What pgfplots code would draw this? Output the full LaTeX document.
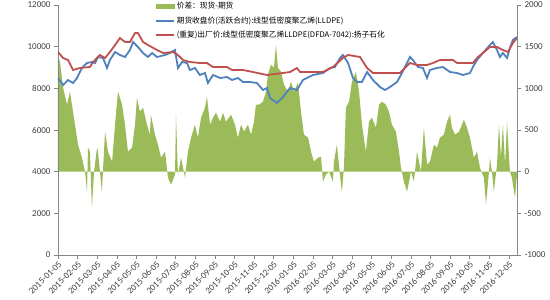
\documentclass[border=0pt]{standalone}
\usepackage{fontspec}
\setmainfont{Carlito}
\newfontfamily\cjk{Noto Sans CJK SC}
\usepackage{pgfplots}
\pgfplotsset{compat=1.18}
\definecolor{cgreen}{HTML}{9BBB59}
\definecolor{cblue}{HTML}{4F81BD}
\definecolor{cred}{HTML}{C0504D}
\definecolor{axgray}{HTML}{868686}
\definecolor{txt}{HTML}{404040}
\begin{document}
\begin{tikzpicture}
\pgfplotsset{
  common/.style={scale only axis, width=459pt, height=250pt, xmin=0, xmax=23.42,
    tick label style={font=\fontsize{9}{10}\selectfont, text=txt},
    /pgf/number format/assume math mode=true,
    /pgf/number format/1000 sep={},
    scaled y ticks=false,
    axis line style={axgray},
    every tick/.style={axgray},
    tick align=outside, major tick length=4pt}
}
\begin{axis}[common, axis y line*=right, axis x line=none,
  ymin=-1000, ymax=2000, ytick={-1000,-500,0,500,1000,1500,2000}]
\addplot[fill=cgreen, draw=none] coordinates {
(0,1368)(0.10,1320)(0.26,1008)(0.46,804)(0.61,960)(0.71,804)(0.87,564)(1.02,324)(1.22,168)(1.38,0)(1.48,-240)(1.53,288)(1.63,240)(1.73,-432)(1.84,0)(1.99,288)(2.04,240)(2.24,-240)(2.40,480)(2.55,240)(2.76,120)(2.91,564)(3.06,960)(3.27,804)(3.42,564)(3.57,240)(3.78,288)(3.93,564)(4.03,888)(4.18,720)(4.34,768)(4.54,564)(4.69,444)(4.74,684)(4.95,444)(5.10,324)(5.26,168)(5.46,240)(5.61,-72)(5.77,-156)(5.97,-36)(6.02,684)(6.12,-36)(6.28,168)(6.48,-72)(6.63,240)(6.79,408)(6.99,564)(7.14,408)(7.30,648)(7.50,768)(7.60,900)(7.76,564)(7.91,648)(8.06,708)(8.27,600)(8.42,708)(8.57,600)(8.83,684)(9.03,564)(9.18,408)(9.34,564)(9.49,480)(9.69,564)(9.85,444)(10.00,600)(10.10,804)(10.26,804)(10.46,840)(10.61,960)(10.71,1164)(10.87,1284)(11.02,1248)(11.12,1524)(11.22,1248)(11.38,1200)(11.53,1044)(11.73,960)(11.89,1080)(12.04,960)(12.24,1068)(12.40,720)(12.55,444)(12.76,408)(12.91,240)(13.06,120)(13.27,168)(13.42,180)(13.52,-120)(13.67,-36)(13.83,0)(14.03,-120)(14.08,120)(14.23,324)(14.44,-156)(14.49,-240)(14.59,48)(14.69,768)(14.85,840)(15.00,1080)(15.20,1200)(15.36,960)(15.51,564)(15.71,240)(15.87,600)(16.02,648)(16.22,528)(16.38,804)(16.53,840)(16.73,804)(16.89,720)(17.04,564)(17.24,480)(17.40,240)(17.50,48)(17.65,-120)(17.81,-240)(18.01,0)(18.16,-120)(18.32,240)(18.52,0)(18.67,528)(18.83,84)(18.98,120)(19.18,324)(19.34,288)(19.49,408)(19.69,444)(19.85,600)(20.00,684)(20.10,528)(20.26,444)(20.46,480)(20.61,564)(20.71,624)(20.87,528)(21.02,408)(21.22,168)(21.38,240)(21.53,48)(21.73,-72)(21.84,-396)(21.99,0)(22.04,168)(22.14,0)(22.24,-240)(22.40,84)(22.50,564)(22.60,168)(22.70,564)(22.81,84)(22.91,600)(23.06,0)(23.16,-72)(23.32,-312)(23.42,-36)
} \closedcycle;
\end{axis}
\begin{axis}[common, axis y line*=left, axis x line*=bottom,
  ymin=0, ymax=12000, ytick={0,2000,4000,6000,8000,10000,12000},
  xtick={0,...,23},
  xticklabels={2015-01-05,2015-02-05,2015-03-05,2015-04-05,2015-05-05,2015-06-05,2015-07-05,2015-08-05,2015-09-05,2015-10-05,2015-11-05,2015-12-05,2016-01-05,2016-02-05,2016-03-05,2016-04-05,2016-05-05,2016-06-05,2016-07-05,2016-08-05,2016-09-05,2016-10-05,2016-11-05,2016-12-05},
  xticklabel style={rotate=45, anchor=north east, inner sep=1pt},
  legend style={at={(0.211,1.02)}, anchor=north west, draw=none, fill=none,
    font=\cjk\fontsize{7.7}{8}\selectfont, text=black, cells={anchor=west}, inner sep=0pt, row sep=2.5pt},
  legend image code/.code={\draw[#1] (0pt,0pt) -- (18pt,0pt);}]
\addlegendimage{legend image code/.code={\fill[cgreen] (0pt,-2pt) rectangle (18pt,2pt);}}
\addlegendentry{价差：现货-期货}
\addplot[cblue, line width=1.8pt] coordinates {
(0,8496)(0.26,8160)(0.51,8400)(0.77,8256)(0.97,8496)(1.22,8976)(1.48,9216)(1.73,9264)(1.89,9216)(2.04,9504)(2.30,9456)(2.50,8976)(2.65,9360)(2.91,9744)(3.16,9600)(3.42,9504)(3.67,9840)(3.83,10224)(4.08,9984)(4.34,9696)(4.59,9504)(4.80,9696)(5.05,9504)(5.46,9600)(5.71,9696)(5.97,9840)(6.12,8976)(6.33,9264)(6.58,9216)(6.73,8880)(6.99,8976)(7.24,8640)(7.50,8736)(7.65,8256)(7.91,8640)(8.27,8496)(8.62,8544)(8.88,8400)(9.18,8496)(9.44,8304)(9.80,8304)(10.15,8256)(10.46,7920)(10.66,8016)(10.82,7536)(11.17,7296)(11.48,7584)(11.84,8016)(12.19,7920)(12.50,8400)(13.01,8640)(13.52,8736)(13.88,8976)(14.13,9024)(14.39,9456)(14.54,9600)(14.80,9216)(15.05,8496)(15.26,8304)(15.51,8304)(15.77,8784)(16.07,8400)(16.43,8064)(16.68,7920)(16.94,8064)(17.30,8304)(17.55,8736)(17.70,9024)(17.96,9504)(18.11,9360)(18.37,9024)(18.62,8976)(18.83,8496)(18.98,8880)(19.34,8976)(19.64,9024)(20.00,8784)(20.36,8736)(20.66,8640)(21.02,8736)(21.17,9024)(21.38,9360)(21.68,9696)(22.04,10080)(22.19,10224)(22.40,9840)(22.55,9504)(22.70,9696)(22.91,9456)(23.06,9936)(23.21,10320)(23.42,10464)
};
\addlegendentry{期货收盘价(活跃合约):线型低密度聚乙烯(LLDPE)}
\addplot[cred, line width=1.8pt] coordinates {
(0,9744)(0.26,9456)(0.51,9360)(0.77,8880)(1.12,8976)(1.63,9024)(1.79,9264)(2.14,9600)(2.40,9456)(2.65,9744)(2.91,10080)(3.16,10416)(3.42,10224)(3.67,10224)(3.93,10656)(4.08,10656)(4.34,10224)(4.59,10080)(5.05,9840)(5.36,9696)(5.87,9744)(6.12,9600)(6.38,9360)(6.73,9264)(7.24,9216)(7.60,9216)(7.91,9024)(8.62,9024)(8.88,8880)(9.44,8880)(9.95,8784)(10.66,8640)(11.48,8736)(11.84,8784)(12.19,8976)(12.35,8784)(12.86,8784)(13.52,8784)(14.03,9024)(14.54,9456)(14.80,9600)(15.41,9504)(15.77,8976)(16.07,8736)(17.45,8736)(17.70,8976)(17.96,9216)(18.32,9120)(18.83,9120)(19.13,9216)(19.49,9360)(20.15,9360)(20.36,9216)(21.17,9216)(21.43,9504)(21.68,9696)(22.04,9984)(22.40,9984)(22.70,9840)(22.96,9744)(23.21,10176)(23.42,10416)
};
\addlegendentry{(重复)出厂价:线型低密度聚乙烯LLDPE(DFDA-7042):扬子石化}
\coordinate (sw) at (rel axis cs:0,0);
\coordinate (ne) at (rel axis cs:1,1);
\end{axis}
\pgfresetboundingbox
\path ([shift={(-58pt,-45pt)}]sw) rectangle ([shift={(33pt,5pt)}]ne);
\end{tikzpicture}
\end{document}
